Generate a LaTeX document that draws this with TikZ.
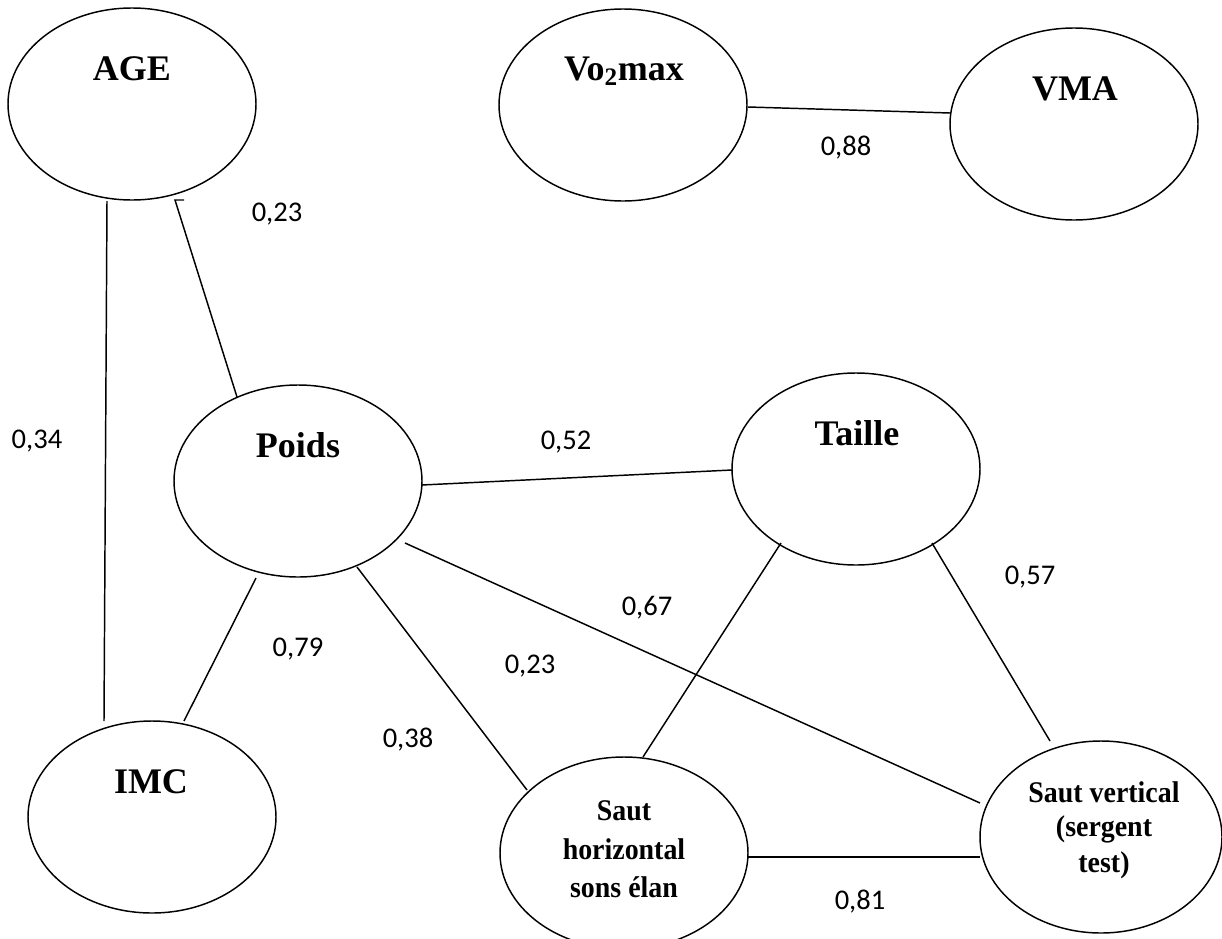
\documentclass[tikz,border=0pt]{standalone}
\usepackage{fontspec}
\setmainfont{Liberation Serif}
\newfontfamily\numfont{Carlito}
\usetikzlibrary{shapes.geometric,calc}
\tikzset{
  var/.style={ellipse, draw, line width=1.1pt, inner sep=0pt,
              minimum width=186pt, minimum height=144pt},
  bigtxt/.style={anchor=base, inner sep=0pt, font=\fontsize{27}{30}\selectfont\bfseries},
  smalltxt/.style={anchor=base, inner sep=0pt, xscale=0.93,
                   font=\fontsize{22.5}{25}\selectfont\bfseries},
  coef/.style={anchor=base, inner sep=0pt, font=\numfont\fontsize{21.4}{24}\selectfont},
  link/.style={line width=1.1pt}
}
\begin{document}
\begin{tikzpicture}[x=0.75pt, y=-0.75pt]
\useasboundingbox (0,0) rectangle (1222,939);

% variables
\node[var] (age)    at (132,104) {};
\node[var] (vo2)    at (623,105) {};
\node[var] (vma)    at (1074,124) {};
\node[var] (poids)  at (298,481) {};
\node[var] (taille) at (856,469) {};
\node[var] (imc)    at (152,817) {};
\node[var] (sh)     at (624,853) {};
\node[var, minimum width=181.5pt] (sv) at (1101,837) {};

% variable names
\node[bigtxt] (age-t)    at (132,80)  {AGE};
\node[bigtxt] (vo2-t)    at (624,80)  {Vo\textsubscript{2}max};
\node[bigtxt] (vma-t)    at (1075,100) {VMA};
\node[bigtxt] (poids-t)  at (298,457) {Poids};
\node[bigtxt] (taille-t) at (857,445) {Taille};
\node[bigtxt] (imc-t)    at (151,793) {IMC};
\node[smalltxt] (sh-t1) at (624,820) {Saut};
\node[smalltxt] (sh-t2) at (624,859) {horizontal};
\node[smalltxt] (sh-t3) at (624,897) {sons élan};
\node[smalltxt] (sv-t1) at (1104,802) {Saut vertical};
\node[smalltxt] (sv-t2) at (1104,836) {(sergent};
\node[smalltxt] (sv-t3) at (1104,872) {test)};

% correlations
\draw[link] ($(age)+(-25,97)$) -- ($(imc)+(-48,-96)$);
\draw[link] ($(age)+(52,96)$) -- ($(age)+(43,96)$) -- ($(poids)+(-61,-84)$);
\draw[link] ($(vo2)+(125,2)$) -- ($(vma)+(-124,-11)$);
\draw[link] ($(poids)+(124,4)$) -- ($(taille)+(-124,1)$);
\draw[link] ($(poids)+(-42,97)$) -- ($(imc)+(32,-96)$);
\draw[link] ($(poids)+(59,86)$) -- ($(sh)+(-97,-63)$);
\draw[link] ($(poids)+(107,62)$) -- ($(sv)+(-121,-34)$);
\draw[link] ($(taille)+(-75,74)$) -- ($(sh)+(19,-96)$);
\draw[link] ($(taille)+(76,74)$) -- ($(sv)+(-51,-96)$);
\draw[link] ($(sh)+(124,4)$) -- ($(sv)+(-121,20)$);

% coefficients
\node[coef] (c1)  at (277,221) {0,23};
\node[coef] (c2)  at (846,155) {0,88};
\node[coef] (c3)  at (37,448)  {0,34};
\node[coef] (c4)  at (566,449) {0,52};
\node[coef] (c5)  at (1030,584) {0,57};
\node[coef] (c6)  at (647,615) {0,67};
\node[coef] (c7)  at (298,656) {0,79};
\node[coef] (c8)  at (530,673) {0,23};
\node[coef] (c9)  at (408,747) {0,38};
\node[coef] (c10) at (860,909) {0,81};
\end{tikzpicture}
\end{document}
